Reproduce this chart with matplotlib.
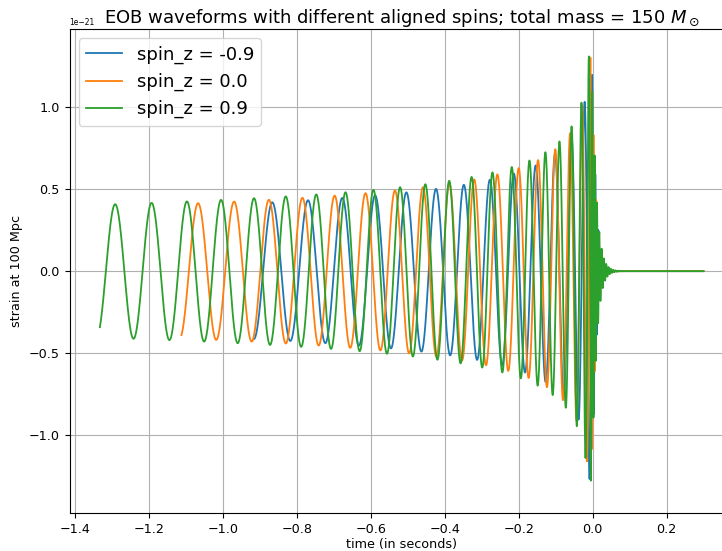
import numpy as np
import matplotlib
matplotlib.use("Agg")
import matplotlib.pyplot as plt

# Aligned-spin EOB-style waveforms (total mass 150 Msun), strain in units of 1e-21
spin_z = [-0.9, 0.0, 0.9]
labels = ["spin_z = -0.9", "spin_z = 0.0", "spin_z = 0.9"]
colors = ["#1f77b4", "#ff7f0e", "#2ca02c"]

t_start = [-0.9157, -1.1118, -1.3324]     # s, where each waveform begins (10 Hz)
t_end = 0.3                               # s, end of the zero-padded record
t_coal = [0.002, 0.002, 0.002]            # s, coalescence time of the inspiral law
phase_exp = [0.668, 0.648, 0.608]         # cycles ~ tau**phase_exp
phase_rate = [14.50, 15.955, 18.177]      # cycles per s**phase_exp
phase_ref = [13.195, 16.659, 21.252]      # cycle count at coalescence
amp_scale = [0.405, 0.421, 0.435]         # 1e-21 * s**0.25
amp_peak = [1.36, 1.33, 1.36]             # 1e-21, merger amplitude
ringdown_freq = [125.0, 140.0, 160.0]     # Hz
ringdown_tau = [0.009, 0.010, 0.011]      # s
sample_rate = 4096.0
strain_limit = 1.474                      # 1e-21, symmetric y range


def waveform(i):
    t = np.arange(t_start[i], t_end, 1.0 / sample_rate)
    tau_pk = (amp_scale[i] / amp_peak[i]) ** 4
    t_pk = t_coal[i] - tau_pk
    tau = np.clip(t_coal[i] - t, tau_pk, None)
    cyc = phase_ref[i] - phase_rate[i] * tau ** phase_exp[i]
    amp = amp_scale[i] * tau ** -0.25
    post = t > t_pk
    f_pk = phase_exp[i] * phase_rate[i] * tau_pk ** (phase_exp[i] - 1)
    dt = t[post] - t_pk
    ramp = 0.004
    f_rd = ringdown_freq[i]
    cyc_pk = phase_ref[i] - phase_rate[i] * tau_pk ** phase_exp[i]
    cyc[post] = cyc_pk + f_rd * dt - (f_rd - f_pk) * ramp * (1 - np.exp(-dt / ramp))
    amp[post] = amp_peak[i] / np.cosh(dt / ringdown_tau[i])
    return t, amp * np.cos(2 * np.pi * cyc) * 1e-21


fig = plt.figure(figsize=(7.22, 5.51), dpi=100)
ax = fig.add_axes([69.7 / 722, 38 / 551, 664 / 722, 483.7 / 551])
for i in range(len(spin_z)):
    t, h = waveform(i)
    ax.plot(t, h, color=colors[i], lw=1.3, label=labels[i])

ax.set_ylim(-strain_limit * 1e-21, strain_limit * 1e-21)
ax.grid(True, color="#b0b0b0", lw=0.8)
ax.tick_params(labelsize=9.2)
ax.yaxis.get_offset_text().set_fontsize(5.5)
ax.set_xlabel("time (in seconds)", fontsize=9.2, labelpad=1.5)
ax.set_ylabel("strain at 100 Mpc", fontsize=9.2)
ax.set_title("EOB waveforms with different aligned spins; total mass = 150 $M_\\odot$",
             fontsize=13, pad=2.5)
ax.legend(loc="upper left", fontsize=13)
fig.savefig("out.png", dpi=100)
